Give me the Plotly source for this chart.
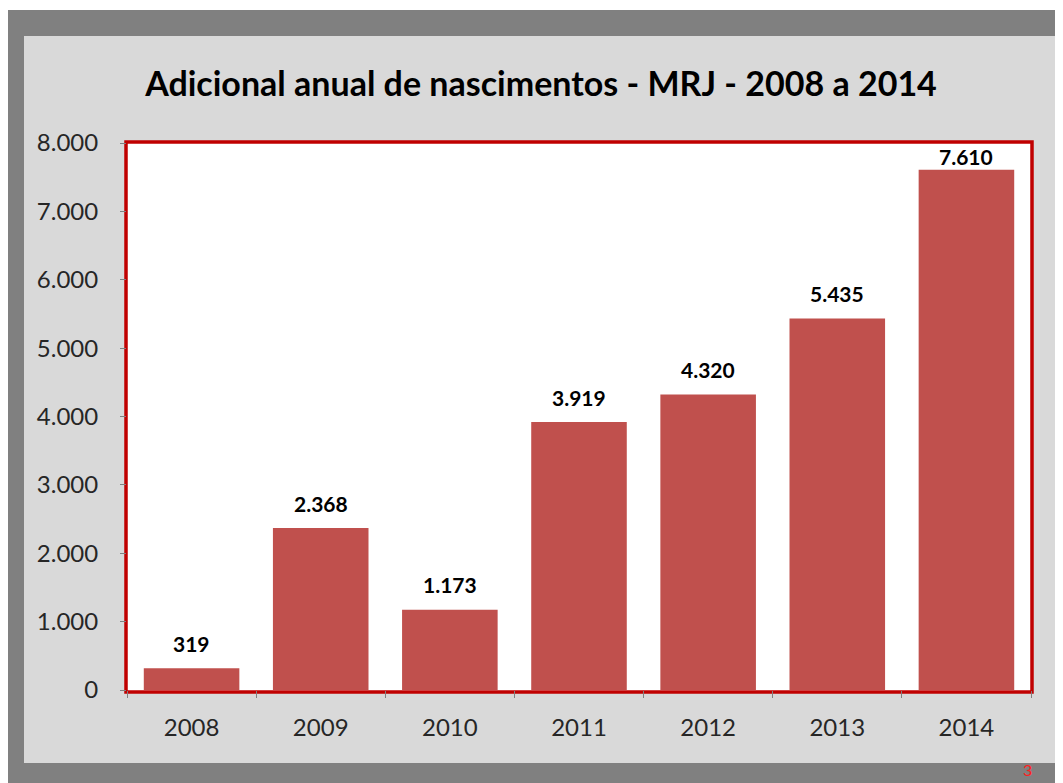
import plotly.graph_objects as go

# ── Data ──────────────────────────────────────────────────────────────────────
years = ["2008", "2009", "2010", "2011", "2012", "2013", "2014"]
nascimentos = [319, 2368, 1173, 3919, 4320, 5435, 7610]
y_ticks = [0, 1000, 2000, 3000, 4000, 5000, 6000, 7000, 8000]
y_max = 8000

W, H = 1063, 783
OFF = 8  # page body margin added by the browser
# plot area in page pixels
PL, PR, PT, PB = 127 - OFF, 1031 - OFF, 143 - OFF, 690 - OFF


def px(x):
    return (x - OFF - PL) / (PR - PL)


def py(y):
    return (PB - (y - OFF)) / (PB - PT)


FONT = "Lato, Calibri, sans-serif"


def label(v):
    return f"{v:,}".replace(",", ".")


fig = go.Figure()
fig.add_trace(go.Bar(
    x=years,
    y=nascimentos,
    marker=dict(color="#c0504d", line=dict(width=0)),
    hoverinfo="x+y",
))

# data labels sit ~25px above each bar, but stay inside the plot area
plot_h = PB - PT
labels = []
for i, v in enumerate(nascimentos):
    top_px = plot_h * v / y_max
    shift = min(25, plot_h - top_px - 13)
    labels.append(dict(
        x=i, y=v, xref="x", yref="y", text=f"<b>{label(v)}</b>",
        showarrow=False, yshift=shift, yanchor="middle",
        font=dict(family=FONT, size=21, color="#000000"),
    ))

shapes = [
    # dark outer frame
    dict(type="rect", xref="paper", yref="paper", layer="below",
         x0=px(8), x1=px(1075), y0=py(10), y1=py(800),
         fillcolor="#808080", line=dict(width=0)),
    # light gray panel
    dict(type="rect", xref="paper", yref="paper", layer="below",
         x0=px(24), x1=px(1057), y0=py(36), y1=py(763),
         fillcolor="#d9d9d9", line=dict(width=0)),
    # white plot area with red border
    dict(type="rect", xref="paper", yref="paper", layer="below",
         x0=px(126), x1=px(1032), y0=py(142), y1=py(692),
         fillcolor="#ffffff", line=dict(color="#c00000", width=3.5)),
]

fig.update_layout(
    width=W, height=H,
    margin=dict(l=PL, r=W - PR, t=PT, b=H - PB),
    paper_bgcolor="#ffffff",
    plot_bgcolor="rgba(0,0,0,0)",
    separators=",.",
    showlegend=False,
    bargap=0.26,
    shapes=shapes,
    title=dict(
        text="<b>Adicional anual de nascimentos - MRJ - 2008 a 2014</b>",
        x=px(541), xref="paper", xanchor="center",
        y=1 - (84 - OFF) / H, yanchor="middle",
        font=dict(family=FONT, size=34, color="#000000"),
    ),
    xaxis=dict(
        type="category",
        range=[-0.5, len(years) - 0.5],
        showgrid=False, zeroline=False, showline=False,
        ticks="outside", tickson="boundaries", ticklen=7,
        tickcolor="#808080", tickwidth=1,
        tickfont=dict(family=FONT, size=24, color="#262626"),
        ticklabelstandoff=21,
    ),
    yaxis=dict(
        range=[0, y_max],
        tickvals=y_ticks,
        tickformat=",d",
        showgrid=False, zeroline=False, showline=False,
        ticks="outside", ticklen=6, tickcolor="#808080", tickwidth=1,
        tickfont=dict(family=FONT, size=24, color="#262626"),
        ticklabelstandoff=17,
    ),
    annotations=labels + [
        dict(text="3", xref="paper", yref="paper", x=px(1027), y=py(769),
             showarrow=False, font=dict(family=FONT, size=16, color="#ff2020"),
             xanchor="center", yanchor="middle"),
    ],
)

fig.write_html("out.html")
